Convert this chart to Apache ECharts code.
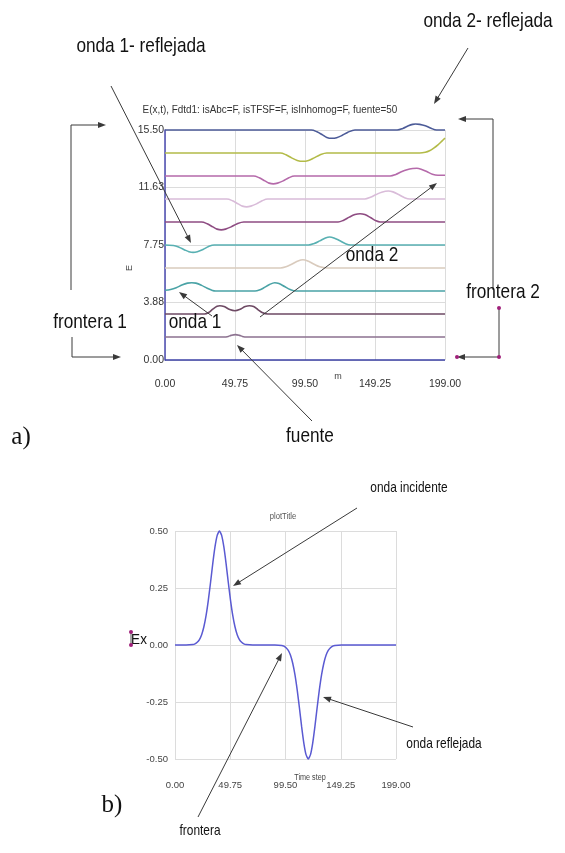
<!DOCTYPE html>
<html>
<head>
<meta charset="utf-8">
<script src="https://cdn.jsdelivr.net/npm/echarts@6/dist/echarts.min.js"></script>
<style>
html,body{margin:0;padding:0;background:#fff;}
#c{width:565px;height:853px;}
</style>
</head>
<body>
<div id="c"></div>
<script>
// ---------- DATA (top panel: E(x,t) snapshots, deviation from offset) ----------
const topXTicks = ["0.00","49.75","99.50","149.25","199.00"];
const topYTicks = ["0.00","3.88","7.75","11.63","15.50"];
const topOffsets = [0,1.55,3.1,4.65,6.2,7.75,9.3,10.85,12.4,13.95,15.5];
const trace0 = [[0,0],[199,0]];
const trace1 = [[0,0],[42,0],[45,0.04],[47,0.11],[50,0.16],[53,0.11],[55,0.04],[58,0],[199,0]];
const trace2 = [[0,0],[28,0],[31,0.1],[34,0.33],[37,0.52],[39,0.56],[42,0.5],[46,0.3],[49.75,0.22],[53,0.3],[57,0.5],[60,0.56],[63,0.5],[66,0.3],[69,0.1],[73,0],[199,0]];
const trace3 = [[0,0.05],[4,0.1],[8,0.22],[12,0.4],[16,0.53],[19,0.56],[22,0.53],[26,0.38],[30,0.18],[33,0.06],[36,0],[64,0],[67,0.06],[70,0.2],[74,0.42],[78,0.56],[81,0.5],[85,0.3],[89,0.1],[93,0],[199,0]];
const trace4 = [[0,0],[82,0],[86,0.08],[90,0.25],[94,0.45],[98,0.56],[102,0.45],[106,0.25],[110,0.08],[115,0],[199,0]];
const trace5 = [[0,0],[6,-0.03],[10,-0.15],[14,-0.33],[17,-0.45],[20,-0.5],[23,-0.45],[27,-0.3],[31,-0.1],[35,0],[102,0],[106,0.1],[110,0.28],[114,0.47],[117,0.54],[120,0.48],[124,0.3],[128,0.1],[132,0],[199,0]];
const trace6 = [[0,0],[26,0],[30,-0.12],[34,-0.33],[37,-0.48],[40,-0.53],[43,-0.48],[47,-0.33],[51,-0.13],[56,0],[123,0],[127,0.12],[131,0.33],[135,0.5],[138.6,0.56],[142,0.5],[146,0.3],[150,0.08],[153,0],[199,0]];
const trace7 = [[0,0],[44,0],[48,-0.12],[52,-0.33],[55,-0.48],[58,-0.53],[61,-0.48],[65,-0.33],[69,-0.12],[73,0],[142,0],[146,0.12],[150,0.3],[154,0.46],[158.7,0.54],[162,0.48],[166,0.3],[170,0.1],[174,0],[199,0]];
const trace8 = [[0,0],[63,0],[67,-0.12],[71,-0.33],[74,-0.48],[77,-0.53],[80,-0.48],[84,-0.33],[88,-0.12],[92,0],[160,0],[164,0.1],[168,0.28],[172,0.42],[176,0.5],[179,0.52],[182,0.46],[186,0.3],[190,0.12],[194,0.05],[199,0.05]];
const trace9 = [[0,0],[82,0],[86,-0.12],[90,-0.33],[94,-0.5],[98,-0.56],[102,-0.5],[106,-0.33],[110,-0.13],[115,0],[181,0],[185,0.05],[188,0.15],[191,0.33],[194,0.55],[197,0.82],[199,1.0]];
const trace10 = [[0,0],[104,0],[108,-0.12],[112,-0.33],[115,-0.5],[118.5,-0.56],[122,-0.52],[126,-0.36],[130,-0.15],[135,0],[165,0],[169,0.1],[173,0.28],[176,0.38],[178,0.4],[181,0.38],[185,0.28],[189,0.12],[193,0],[199,0]];
const topTraces = [trace0,trace1,trace2,trace3,trace4,trace5,trace6,trace7,trace8,trace9,trace10];

// ---------- DATA (bottom panel: Ex vs time step) ----------
const botXTicks = ["0.00","49.75","99.50","149.25","199.00"];
const botYTicks = ["-0.50","-0.25","0.00","0.25","0.50"];
const exStep  = [0,10,16,18,20,22,24,26,28,30,32,34,36,38,40,42,44,46,48,50,52,54,56,58,60,62,64,70,90,
                 96,98,100,102,104,106,108,110,112,114,116,118,120,122,124,126,128,130,132,134,136,138,140,142,144,150,199];
const exValue = [0,0,0.002,0.005,0.012,0.024,0.045,0.08,0.13,0.196,0.274,0.357,0.43,0.481,0.5,0.481,0.43,0.357,0.274,0.196,0.13,0.08,0.045,0.024,0.012,0.005,0.002,0,0,
                 -0.002,-0.005,-0.012,-0.024,-0.045,-0.08,-0.13,-0.196,-0.274,-0.357,-0.43,-0.481,-0.5,-0.481,-0.43,-0.357,-0.274,-0.196,-0.13,-0.08,-0.045,-0.024,-0.012,-0.005,-0.002,0,0];

// ---------- STYLES ----------
const topColors = ['#3b40a6','#8c7290','#6e4a64','#4aa3a6','#d9cbbd','#58b0b2','#8e4c82','#d9bcd9','#b56aaa','#b3bb48','#4c5b98'];
const SANS = "'Liberation Sans',Arial,sans-serif";
const SERIF = "'Liberation Serif','Times New Roman',serif";
const NARROWK = 0.82;

const chart = echarts.init(document.getElementById('c'), null, {renderer:'canvas'});

const topSeries = topTraces.map((tr, k) => ({
  type:'line', xAxisIndex:0, yAxisIndex:0, smooth:0.35, symbol:'none', clip:false,
  lineStyle:{color:topColors[k], width:1.6},
  data: tr.map(p => [p[0], p[1] + topOffsets[k]]),
  z: 3
}));

const botSeries = {
  type:'line', xAxisIndex:1, yAxisIndex:1, smooth:0.2, symbol:'none', clip:false,
  lineStyle:{color:'#5a5ad2', width:1.5},
  data: exStep.map((s,i) => [s, exValue[i]])
};

// ---------- annotation helpers ----------
const INK = '#3a3a3a';
function arrow(pts, color, width) {
  color = color || INK; width = width || 1;
  const n = pts.length;
  const [x1,y1] = pts[n-2], [x2,y2] = pts[n-1];
  const dx = x2-x1, dy = y2-y1, L = Math.hypot(dx,dy);
  const ux = dx/L, uy = dy/L, hl = 8, hw = 3;
  const bx = x2-ux*hl, by = y2-uy*hl;
  const linePts = pts.slice(0,n-1).concat([[bx+ux*1, by+uy*1]]);
  return [
    {type:'polyline', shape:{points:linePts}, style:{stroke:color, lineWidth:width, fill:null}, z:50},
    {type:'polygon', shape:{points:[[x2,y2],[bx-uy*hw,by+ux*hw],[bx+uy*hw,by-ux*hw]]}, style:{fill:color}, z:50}
  ];
}
function txt(s, x, y, size, fam, color, sx, rot) {
  return {type:'text', z:60, x:x, y:y, scaleX:(sx||1), rotation:(rot||0),
    style:{text:s, x:0, y:0, font:size+'px '+fam, fill:color||'#111',
    align:'center', verticalAlign:'middle', textAlign:'center', textVerticalAlign:'middle'}};
}
function dot(x,y){ return {type:'circle', shape:{cx:x, cy:y, r:2}, style:{fill:'#a0207a'}, z:61}; }

const graphics = [].concat(
  txt('onda 2- reflejada', 488, 21, 21, SANS, '#111', NARROWK),
  txt('onda 1- reflejada', 141, 46, 21, SANS, '#111', NARROWK),
  txt('E(x,t), Fdtd1: isAbc=F, isTFSF=F, isInhomog=F, fuente=50', 270, 110, 11, SANS, '#333', 0.9),
  txt('frontera 1', 90, 322, 21, SANS, '#111', NARROWK),
  txt('frontera 2', 503, 292, 21, SANS, '#111', NARROWK),
  txt('onda 2', 372, 255, 21, SANS, '#111', NARROWK),
  txt('onda 1', 195, 322, 21, SANS, '#111', NARROWK),
  txt('fuente', 310, 436, 21, SANS, '#111', NARROWK),
  txt('a)', 21, 437, 25, SERIF),
  txt('b)', 112, 805, 25, SERIF),
  txt('m', 338, 377, 9, SANS, '#444'),
  txt('E', 130, 268, 9, SANS, '#444', 1, Math.PI/2),
  txt('plotTitle', 283, 517, 9, SANS, '#555', 0.85),
  txt('Time step', 310, 778, 8.5, SANS, '#444', 0.85),
  txt('onda incidente', 409, 488, 14.5, SANS, '#111', NARROWK),
  txt('onda reflejada', 444, 744, 14.5, SANS, '#111', NARROWK),
  txt('frontera', 200, 831, 14.5, SANS, '#111', NARROWK),
  txt('Ex', 139, 640, 15, SANS, '#111', 0.9),
  arrow([[468,48],[434,104]]),
  arrow([[111,86],[191,243]]),
  arrow([[71,290],[71,125],[106,125]]),
  arrow([[72,337],[72,357],[121,357]]),
  arrow([[493,290],[493,119],[458,119]]),
  arrow([[499,308],[499,357],[457,357]]),
  arrow([[260,317],[437,183]]),
  arrow([[212,316],[179,292]]),
  arrow([[312,421],[237,345]]),
  arrow([[357,508],[233,586]]),
  arrow([[413,727],[323,697]]),
  arrow([[198,817],[282,653]]),
  [dot(499,308), dot(499,357), dot(457,357),
   {type:'line', shape:{x1:131,y1:632,x2:131,y2:645}, style:{stroke:'#555',lineWidth:1}, z:55},
   dot(131,632), dot(131,645)]
);

chart.setOption({
  animation:false,
  backgroundColor:'#fff',
  grid:[
    {left:165, top:130, width:280, height:230},
    {left:175, top:531, width:221, height:228}
  ],
  xAxis:[
    {type:'value', gridIndex:0, min:0, max:199, interval:49.75,
     axisLine:{show:false}, axisTick:{show:false},
     axisLabel:{margin:19, fontSize:10.5, fontFamily:SANS, color:'#333', formatter:(v)=>topXTicks[Math.round(v/49.75)]},
     splitLine:{show:true, lineStyle:{color:'#dcdcdc', width:1}}},
    {type:'value', gridIndex:1, min:0, max:199, interval:49.75,
     axisLine:{show:false}, axisTick:{show:false},
     axisLabel:{margin:21, fontSize:9.5, fontFamily:SANS, color:'#444', formatter:(v)=>botXTicks[Math.round(v/49.75)]},
     splitLine:{show:true, lineStyle:{color:'#dcdcdc', width:1}}}
  ],
  yAxis:[
    {type:'value', gridIndex:0, min:0, max:15.5, interval:3.875,
     axisLine:{show:true, lineStyle:{color:'#4a4ab0', width:1.5}}, axisTick:{show:false},
     axisLabel:{margin:1, fontSize:10.5, fontFamily:SANS, color:'#333', formatter:(v)=>topYTicks[Math.round(v/3.875)]},
     splitLine:{show:true, lineStyle:{color:'#dcdcdc', width:1}}},
    {type:'value', gridIndex:1, min:-0.5, max:0.5, interval:0.25,
     axisLine:{show:false}, axisTick:{show:false},
     axisLabel:{margin:7, fontSize:9.5, fontFamily:SANS, color:'#444', formatter:(v)=>botYTicks[Math.round((v+0.5)/0.25)]},
     splitLine:{show:true, lineStyle:{color:'#dcdcdc', width:1}}}
  ],
  series: topSeries.concat([botSeries]),
  graphic: graphics
});
</script>
</body>
</html>
